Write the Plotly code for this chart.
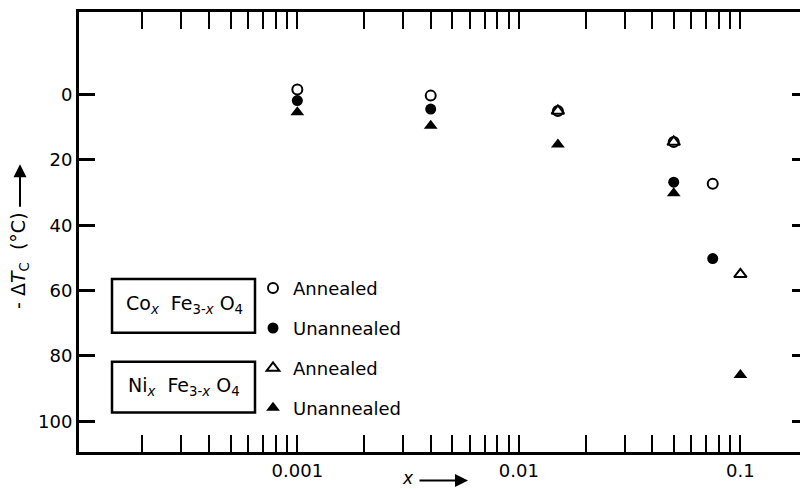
import plotly.graph_objects as go

# ---- data ----
x_co_ann = [0.001, 0.004, 0.015, 0.05, 0.075]
y_co_ann = [-1.6, 0.3, 5.0, 14.5, 27.3]
x_co_un = [0.001, 0.004, 0.05, 0.075]
y_co_un = [1.8, 4.4, 26.8, 50.2]
x_ni_ann = [0.015, 0.05, 0.1]
y_ni_ann = [5.0, 14.5, 55.0]
x_ni_un = [0.001, 0.004, 0.015, 0.05, 0.1]
y_ni_un = [5.4, 9.5, 15.3, 30.2, 85.8]

x_tickvals = [0.001, 0.01, 0.1]
x_ticktext = ["0.001", "0.01", "0.1"]
y_tickvals = [0, 20, 40, 60, 80, 100]
y_ticktext = ["0", "20", "40", "60", "80", "100"]

FONT = "DejaVu Sans"
W, H = 801, 489
# plot area in screen pixels
SX0, SX1, SY0, SY1 = 79, 800, 11.5, 452.5
L, T = SX0, SY0
PW, PH = SX1 - SX0, SY1 - SY0
R = W - L - PW
B = H - T - PH


def px(xs):
    return (xs - SX0) / PW


def py(ys):
    return (SY1 - ys) / PH


minor_x = [m * 10 ** e for e in (-4, -3, -2, -1) for m in range(2, 10)]

fig = go.Figure()

fig.add_trace(go.Scatter(
    x=x_co_ann, y=y_co_ann, mode="markers", name="Annealed", legendgroup="a",
    marker=dict(symbol="circle-open", size=10, color="black", line=dict(width=2, color="black"))))
fig.add_trace(go.Scatter(
    x=x_co_un, y=y_co_un, mode="markers", name="Unannealed", legendgroup="b",
    marker=dict(symbol="circle", size=11, color="black")))
fig.add_trace(go.Scatter(
    x=x_ni_ann, y=y_ni_ann, mode="markers", name="Annealed", legendgroup="c",
    marker=dict(symbol="triangle-up-open", size=11, color="black", line=dict(width=2, color="black"))))
# this trace lives on the (identical) right-hand axis so that axis gets drawn
fig.add_trace(go.Scatter(
    x=x_ni_un, y=y_ni_un, mode="markers", name="Unannealed", legendgroup="d",
    yaxis="y2",
    marker=dict(symbol="triangle-up", size=12, color="black")))

yr = [109.4, -25.3]
xr = [-3.9855, -1 + (SX1 - 740.5) / 221.2]

fig.update_layout(
    width=W, height=H, autosize=False,
    margin=dict(l=L, r=R, t=T, b=B, pad=0),
    paper_bgcolor="white", plot_bgcolor="white",
    font=dict(family=FONT, size=18, color="black"),
    showlegend=True,
    legend=dict(x=px(253), y=py(270), xanchor="left", yanchor="top",
                traceorder="grouped", tracegroupgap=13.5,
                bgcolor="rgba(0,0,0,0)", font=dict(family=FONT, size=18, color="black")),
    xaxis=dict(type="log", range=xr,
               tickmode="array", tickvals=x_tickvals, ticktext=x_ticktext,
               ticks="inside", ticklen=17, tickwidth=2, tickcolor="black",
               showline=True, linewidth=3, linecolor="black", mirror="allticks",
               showgrid=False, zeroline=False,
               minor=dict(tickmode="array", tickvals=minor_x, ticks="inside",
                          ticklen=9, tickwidth=2, tickcolor="black", showgrid=False)),
    yaxis=dict(range=yr, tickmode="array", tickvals=y_tickvals, ticktext=y_ticktext,
               ticks="inside", ticklen=16, tickwidth=2.5, tickcolor="black",
               showline=True, linewidth=3, linecolor="black", mirror=False,
               showgrid=False, zeroline=False),
    yaxis2=dict(range=yr, overlaying="y", side="right", anchor="x",
                tickmode="array", tickvals=y_tickvals, ticktext=y_ticktext,
                ticks="inside", ticklen=8,
                tickwidth=2.5, tickcolor="black", showticklabels=False,
                showline=False, showgrid=False, zeroline=False),
)

# label boxes
for (y0, y1) in [(279, 333), (362, 413)]:
    fig.add_shape(type="rect", xref="paper", yref="paper",
                  x0=px(112), x1=px(255), y0=py(y1), y1=py(y0),
                  line=dict(color="black", width=2.5), fillcolor="rgba(0,0,0,0)")

box_font = dict(family=FONT, size=19, color="black")
fig.add_annotation(xref="paper", yref="paper", x=px(184), y=py(305), showarrow=False,
                   xanchor="center", yanchor="middle",
                   text="Co<sub><i>x</i></sub>&nbsp;&nbsp;Fe<sub>3-<i>x</i></sub>&nbsp;O<sub>4</sub>",
                   font=box_font)
fig.add_annotation(xref="paper", yref="paper", x=px(184), y=py(387), showarrow=False,
                   xanchor="center", yanchor="middle",
                   text="Ni<sub><i>x</i></sub>&nbsp;&nbsp;Fe<sub>3-<i>x</i></sub>&nbsp;O<sub>4</sub>",
                   font=box_font)

# y-axis title with arrow
fig.add_annotation(xref="paper", yref="paper", x=px(20), y=py(261), showarrow=False,
                   textangle=-90, xanchor="center", yanchor="middle",
                   text="-&nbsp;Δ<i>T</i><sub>C</sub>&nbsp;&nbsp;(°C)",
                   font=dict(family=FONT, size=19, color="black"))
fig.add_annotation(xref="paper", yref="paper", x=px(20), y=py(164), text="",
                   showarrow=True, ax=0, ay=44, arrowhead=2, arrowsize=1.3,
                   arrowwidth=2, arrowcolor="black")

# x-axis title with arrow
fig.add_annotation(xref="paper", yref="paper", x=px(408), y=py(479), showarrow=False,
                   xanchor="center", yanchor="middle",
                   text="<i>x</i>", font=dict(family=FONT, size=17, color="black"))
fig.add_annotation(xref="paper", yref="paper", x=px(468), y=py(481), text="",
                   showarrow=True, ax=-50, ay=0, arrowhead=2, arrowsize=1.3,
                   arrowwidth=2, arrowcolor="black")

# remove the browser's default page margin so the figure fills the window exactly
fig.write_html("out.html",
               config={"displayModeBar": False},
               post_script="document.body.style.margin='0px';"
                           "document.body.style.overflow='hidden';")
